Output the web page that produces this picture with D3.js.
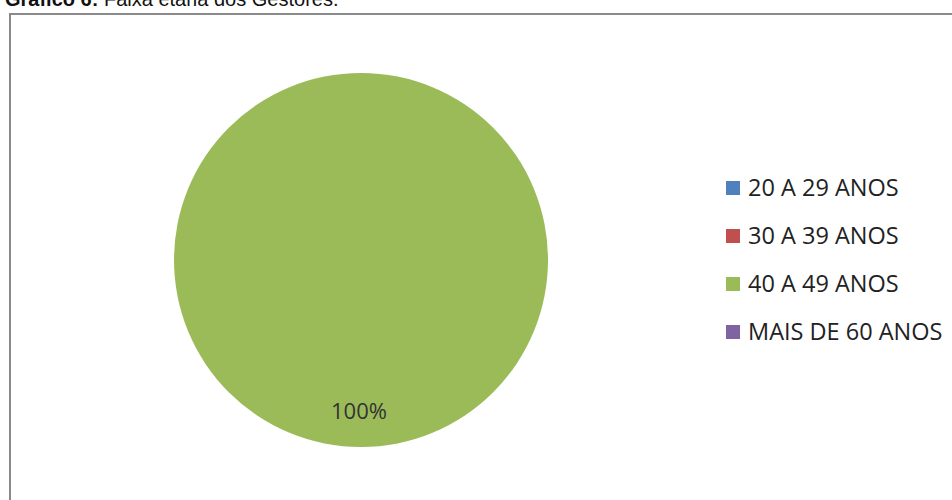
<!DOCTYPE html>
<html><head><meta charset="utf-8">
<script src="https://cdn.jsdelivr.net/npm/d3@7"></script>
<style>body{margin:0;background:#fff;}svg{display:block;}</style>
</head><body>
<svg id="c" width="952" height="500"></svg>
<script>
const categories = ["20 A 29 ANOS", "30 A 39 ANOS", "40 A 49 ANOS", "MAIS DE 60 ANOS"];
const values = [0, 0, 100, 0];
const colors = ["#4F81BD", "#C0504D", "#9BBB59", "#8064A2"];

const svg = d3.select("#c");
// title (partly cut at top, as in the reference)
const t = svg.append("text").attr("x", 5).attr("y", 6)
  .style("font-family", "Liberation Sans, Arial, sans-serif").style("font-size", "20px").attr("fill", "#111");
t.append("tspan").attr("font-weight", "bold").text("Gráfico 6:");
t.append("tspan").text(" Faixa etária dos Gestores.");

// chart border
svg.append("rect").attr("x", 10).attr("y", 14).attr("width", 960).attr("height", 500)
  .attr("fill", "#fff").attr("stroke", "#8a8a8a").attr("stroke-width", 2);

const cx = 361, cy = 260, r = 187;
const g = svg.append("g").attr("transform", `translate(${cx},${cy})`);
const pie = d3.pie().sort(null).value(d => d.v);
const data = pie(categories.map((c, i) => ({c, v: values[i], col: colors[i]})));
const arc = d3.arc().innerRadius(0).outerRadius(r);
const labelArc = d3.arc().innerRadius(r * 0.81).outerRadius(r * 0.81);
g.selectAll("path").data(data.filter(d => d.data.v > 0)).join("path")
  .attr("d", arc).attr("fill", d => d.data.col);
const total = d3.sum(values);
g.selectAll("text.lbl").data(data.filter(d => d.data.v > 0)).join("text")
  .attr("class", "lbl")
  .attr("transform", d => `translate(${labelArc.centroid(d)})`)
  .attr("dx", -2)
  .attr("text-anchor", "middle").attr("dy", "0.36em")
  .style("font-family", "'Open Sans', sans-serif").style("font-size", "22px").attr("fill", "#333")
  .text(d => Math.round(d.data.v / total * 100) + "%");

// legend
const leg = svg.append("g").attr("transform", "translate(726,188)");
const rows = leg.selectAll("g").data(categories).join("g")
  .attr("transform", (d, i) => `translate(0,${i * 48})`);
rows.append("rect").attr("x", 0).attr("y", -7).attr("width", 14).attr("height", 14)
  .attr("fill", (d, i) => colors[i]);
rows.append("text").attr("x", 22).attr("dy", "0.36em")
  .style("font-family", "'Open Sans', sans-serif").style("font-size", "23.5px").attr("fill", "#222")
  .text(d => d);
</script>
</body></html>
